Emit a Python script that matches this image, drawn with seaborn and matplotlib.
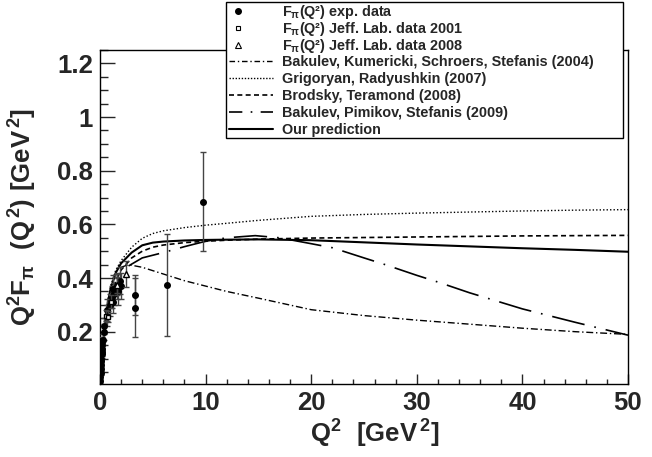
import matplotlib
matplotlib.use("Agg")
import matplotlib.pyplot as plt
import pandas as pd
import seaborn as sns
from matplotlib.lines import Line2D
from matplotlib.patches import Rectangle
from matplotlib.ticker import MultipleLocator

exp_q2 = [0.015, 0.03, 0.05, 0.07, 0.09, 0.11, 0.13, 0.15, 0.17, 0.19, 0.21, 0.23, 0.25,
          0.35, 0.40, 0.62, 0.70, 0.93, 1.18, 1.19, 1.22, 1.31, 1.60, 1.70, 1.94, 2.01,
          3.33, 3.33, 6.30, 9.77]
exp_val = [0.015, 0.03, 0.045, 0.06, 0.075, 0.09, 0.10, 0.115, 0.125, 0.135, 0.15, 0.16, 0.17,
           0.20, 0.22, 0.28, 0.26, 0.30, 0.33, 0.36, 0.31, 0.34, 0.37, 0.35, 0.39, 0.37,
           0.337, 0.289, 0.374, 0.684]
exp_err = [0.005, 0.006, 0.008, 0.01, 0.01, 0.012, 0.012, 0.014, 0.015, 0.016, 0.018, 0.02, 0.02,
           0.03, 0.03, 0.04, 0.04, 0.04, 0.04, 0.05, 0.04, 0.04, 0.05, 0.05, 0.05, 0.05,
           0.075, 0.11, 0.19, 0.185]

jlab01_q2 = [0.60, 0.75, 1.00, 1.60]
jlab01_val = [0.26, 0.256, 0.312, 0.373]
jlab01_err = [0.02, 0.02, 0.025, 0.03]

jlab08_q2 = [1.60, 2.45]
jlab08_val = [0.375, 0.415]
jlab08_err = [0.04, 0.05]

# theory curves
q2_grid = [0, 0.1, 0.25, 0.5, 0.75, 1, 1.5, 2, 3, 4, 5, 6, 8, 10, 12, 15, 20, 25, 30, 35, 40, 45, 50]
ours = [0, 0.06, 0.14, 0.24, 0.31, 0.36, 0.42, 0.455, 0.495, 0.522, 0.532, 0.536, 0.54, 0.542,
        0.543, 0.544, 0.541, 0.533, 0.525, 0.518, 0.511, 0.505, 0.498]
bt08 = [0, 0.05, 0.12, 0.21, 0.28, 0.33, 0.39, 0.43, 0.475, 0.50, 0.515, 0.523, 0.532, 0.537,
        0.541, 0.545, 0.549, 0.551, 0.553, 0.555, 0.557, 0.558, 0.559]
gr07 = [0, 0.06, 0.14, 0.24, 0.32, 0.37, 0.43, 0.465, 0.515, 0.548, 0.566, 0.576, 0.588, 0.597,
        0.604, 0.615, 0.630, 0.637, 0.642, 0.646, 0.650, 0.653, 0.655]

bkss_q2 = [2.0, 2.7, 4, 6, 8, 10, 12, 15, 20, 25, 30, 35, 40, 45, 50]
bkss04 = [0.44, 0.45, 0.44, 0.415, 0.39, 0.37, 0.35, 0.325, 0.282, 0.26, 0.243, 0.228, 0.213, 0.2, 0.19]

bps_q2 = [2.7, 4, 6, 8, 10, 12, 14.7, 17, 20, 22, 25, 27, 30, 32, 35, 40, 42, 45, 50]
bps09 = [0.445, 0.475, 0.495, 0.517, 0.537, 0.55, 0.558, 0.55, 0.528, 0.513, 0.475, 0.45, 0.41,
         0.385, 0.345, 0.285, 0.265, 0.235, 0.187]

labels = [
    r"$\mathbf{F_{\pi}}$(Q²) exp. data",
    r"$\mathbf{F_{\pi}}$(Q²) Jeff. Lab. data 2001",
    r"$\mathbf{F_{\pi}}$(Q²) Jeff. Lab. data 2008",
    "Bakulev, Kumericki, Schroers, Stefanis (2004)",
    "Grigoryan, Radyushkin (2007)",
    "Brodsky, Teramond (2008)",
    "Bakulev, Pimikov, Stefanis (2009)",
    "Our prediction",
]

sns.set_style("ticks")
plt.rcParams["font.family"] = ["Liberation Sans", "DejaVu Sans"]
plt.rcParams["font.weight"] = "bold"
plt.rcParams["mathtext.fontset"] = "custom"
plt.rcParams["mathtext.rm"] = "Liberation Sans:bold"
plt.rcParams["mathtext.bf"] = "Liberation Sans:bold"
plt.rcParams["mathtext.it"] = "Liberation Sans:bold"
plt.rcParams["mathtext.default"] = "bf"

W, H = 652, 457
fig = plt.figure(figsize=(W / 100, H / 100), dpi=100)
ax = fig.add_axes([100 / W, 1 - 384 / H, 528 / W, 334 / H])

styles = {
    "bkss": dict(lw=1.0, dashes=(5, 2, 1, 2)),
    "gr": dict(lw=1.0, dashes=(1, 1.5)),
    "bt": dict(lw=1.2, dashes=(3, 2)),
    "bps": dict(lw=1.2, dashes=(20, 6, 1, 6)),
    "ours": dict(lw=1.5),
}

curves = [
    (bkss_q2, bkss04, "bkss"),
    (q2_grid, gr07, "gr"),
    (q2_grid, bt08, "bt"),
    (bps_q2, bps09, "bps"),
    (q2_grid, ours, "ours"),
]
for xs, ys, key in curves:
    df = pd.DataFrame({"q2": xs, "val": ys})
    sns.lineplot(data=df, x="q2", y="val", ax=ax, color="black", lw=styles[key]["lw"],
                 estimator=None, sort=False)
    if "dashes" in styles[key]:
        ax.lines[-1].set_dashes(styles[key]["dashes"])

ax.errorbar(exp_q2, exp_val, yerr=exp_err, fmt="o", color="black", ms=4,
            ecolor="#444444", elinewidth=1.0, capsize=2, zorder=5)
ax.errorbar(jlab01_q2, jlab01_val, yerr=jlab01_err, fmt="s", mfc="white", mec="black", ms=3.5,
            ecolor="#444444", elinewidth=1.0, capsize=2, zorder=6)
ax.errorbar(jlab08_q2, jlab08_val, yerr=jlab08_err, fmt="^", mfc="white", mec="black", ms=4,
            ecolor="#444444", elinewidth=1.0, capsize=2, zorder=6)

ax.set_xlim(0, 50)
ax.set_ylim(0.005, 1.25)
ax.xaxis.set_major_locator(MultipleLocator(10))
ax.xaxis.set_minor_locator(MultipleLocator(2))
ax.set_yticks([0.2, 0.4, 0.6, 0.8, 1.0, 1.2])
ax.set_yticklabels(["0.2", "0.4", "0.6", "0.8", "1", "1.2"])
ax.yaxis.set_minor_locator(MultipleLocator(0.05))
ax.tick_params(axis="x", which="major", direction="in", length=7.2, width=1, labelsize=18.5, pad=5)
ax.tick_params(axis="x", which="minor", direction="in", length=3.6, width=1)
ax.tick_params(axis="y", which="major", direction="in", length=10.8, width=1, labelsize=18.5, pad=5)
ax.tick_params(axis="y", which="minor", direction="in", length=5.8, width=1)
for lab in ax.get_xticklabels() + ax.get_yticklabels():
    lab.set_fontweight("bold")
for sp in ax.spines.values():
    sp.set_linewidth(1.0)
    sp.set_color("black")

ax.set_xlabel(r"$\mathbf{Q^{2}\ \ [GeV^{\,2}]}$", fontsize=18.5)
ax.set_ylabel(r"$\mathbf{Q^{2}F_{\pi}\ \ (Q^{\,2})\ [GeV^{\,2}]}$", fontsize=18.5)
ax.xaxis.set_label_coords(0.52, -0.10)
ax.yaxis.set_label_coords(-0.115, 0.5)

# ROOT-style legend box, laid out in pixel rows
def fx(px):
    return px / W


def fy(py):
    return 1 - py / H


box_l, box_r, box_t, box_b = 226, 623, 2, 138
fig.patches.append(Rectangle((fx(box_l), fy(box_b)), fx(box_r) - fx(box_l), fy(box_t) - fy(box_b),
                             transform=fig.transFigure, facecolor="white", edgecolor="black",
                             lw=1.0, zorder=10))
baselines = [16, 33, 50, 66, 83, 100, 117, 134]
handle_styles = [
    dict(ls="none", marker="o", color="black", ms=4),
    dict(ls="none", marker="s", mfc="white", mec="black", ms=3.5, mew=0.8),
    dict(ls="none", marker="^", mfc="white", mec="black", ms=4, mew=0.8),
    dict(color="black", lw=1.0, dashes=(4, 2, 1, 2)),
    dict(color="black", lw=1.0, dashes=(1, 1.2)),
    dict(color="black", lw=1.2, dashes=(3, 2)),
    dict(color="black", lw=1.2, dashes=(8, 5, 1, 5)),
    dict(color="black", lw=1.5),
]
for base, lab, hs in zip(baselines, labels, handle_styles):
    yc = fy(base - 5)
    if hs.get("ls") == "none":
        fig.lines.append(Line2D([fx(238)], [yc], transform=fig.transFigure, zorder=11, **hs))
    else:
        fig.lines.append(Line2D([fx(229), fx(273)], [yc, yc], transform=fig.transFigure,
                                zorder=11, **hs))
    fig.text(fx(282), fy(base), lab, fontsize=10.4, fontweight="bold", va="baseline",
             ha="left", zorder=12)

plt.savefig("out.png", dpi=100)
plt.close(fig)
